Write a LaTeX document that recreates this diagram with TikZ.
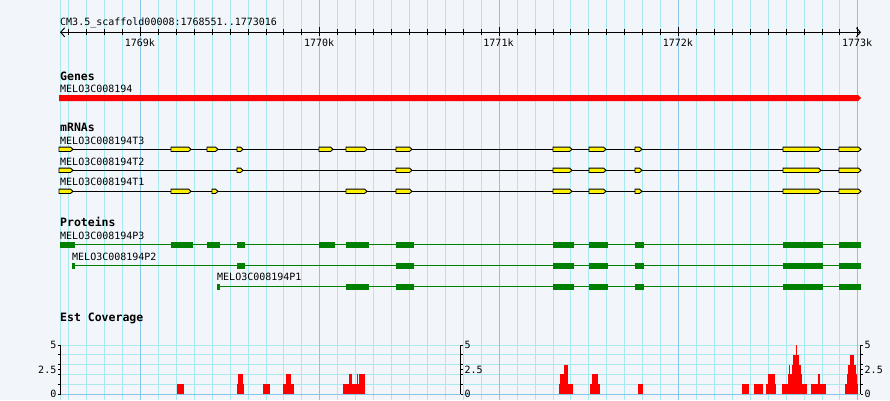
\documentclass[tikz,border=0pt]{standalone}
\usepackage{fontspec}
\setmonofont{DejaVu Sans Mono}
\usepackage{tikz}
\usetikzlibrary{arrows.meta}
\definecolor{panel}{RGB}{242,245,250}
\definecolor{gridminor}{RGB}{168,234,240}
\definecolor{gridmajor}{RGB}{135,198,232}
\definecolor{genered}{RGB}{255,0,0}
\definecolor{cdsgreen}{RGB}{0,128,0}
\tikzstyle{lbl}=[anchor=base west, inner sep=0, text=black,
                font=\ttfamily\fontsize{10}{12}\selectfont]
\tikzstyle{ttl}=[anchor=base west, inner sep=0, text=black,
                font=\ttfamily\bfseries\fontsize{11.5}{13}\selectfont]
\tikzstyle{gridv}=[draw=gridminor, line width=1pt]
\tikzstyle{gridmaj}=[draw=gridmajor, line width=1pt]
\tikzstyle{ruler}=[draw=black, line width=1pt,
                {Straight Barb[length=4pt,width=9pt]}-{Straight Barb[length=4pt,width=9pt]}]
\tikzstyle{intron}=[draw=black, line width=1pt]
\tikzstyle{exon}=[draw=black, fill=yellow, line width=0.9pt]
\tikzstyle{pline}=[draw=cdsgreen, line width=1pt]
\tikzstyle{cds}=[fill=cdsgreen]
\tikzstyle{axis}=[draw=black, line width=1pt]
\newcommand{\mexon}[3]{\draw[exon] (#1,{#3-2.2}) -- ({#2-2.5},{#3-2.2}) -- (#2,#3)
  -- ({#2-2.5},{#3+2.2}) -- (#1,{#3+2.2}) -- cycle;}
\newcommand{\cdsbox}[3]{\fill[cds] (#1,{#3-2.8}) rectangle (#2,{#3+3.2});}

\begin{document}
\begin{tikzpicture}[x=1pt,y=-1pt]
\fill[panel] (0,0) rectangle (890,400);
\useasboundingbox (0,0) rectangle (890,400);
% grid
\draw[gridv] (60,0) -- (60,400);
\foreach \i in {0,...,44}
  \draw[gridv] ({60+(49+100*\i)*0.17933},0) -- ++(0,400);
\foreach \v in {1,...,5}
  \draw[gridv] (60,{394-9.8*\v}) -- (860,{394-9.8*\v});
\foreach \i in {4,14,24,34,44}
  \draw[gridmaj] ({60+(49+100*\i)*0.17933},0) -- ++(0,400);
\draw[gridmaj] (60,394) -- (860,394);

% ruler
\node[lbl] (scaf) at (60,25) {CM3.5\_scaffold00008:1768551..1773016};
\coordinate (rs) at (60,32.3);
\coordinate (re) at (861,32.3);
\draw[ruler] (rs) -- (re);
\foreach \i in {0,...,44}
  \draw[axis] ({60+(49+100*\i)*0.17933},29) -- ++(0,6);
\foreach \i/\lab in {4/1769k,14/1770k,24/1771k,34/1772k,44/1773k}{
  \draw[axis] ({60+(49+100*\i)*0.17933},27.3) -- ++(0,8.5);
  \node[lbl, anchor=base] (tk\i) at ({59.3+(49+100*\i)*0.17933},46) {\lab};
}

% genes
\node[ttl] (genes) at (60,80) {Genes};
\node[lbl] (gene) at (60,92.5) {MELO3C008194};
\fill[genered] (59,95) -- (858,95) -- (861,98) -- (858,101) -- (59,101) -- cycle;

% mRNAs
\node[ttl] (mrnas) at (60,131.7) {mRNAs};
\node[lbl] (t3) at (60,144.3) {MELO3C008194T3};
\node[lbl] (t2) at (60,165) {MELO3C008194T2};
\node[lbl] (t1) at (60,185.7) {MELO3C008194T1};
\draw[intron] (59,149.3) -- (861,149.3);
\draw[intron] (59,170.3) -- (861,170.3);
\draw[intron] (59,191.3) -- (861,191.3);
\foreach \a/\b in {59/73,171/191,207/218,237/243,319/333,346/367,396/412,
                   553/572,589/606,635/642,783/821,839/861}
  {\mexon{\a}{\b}{149.3}}
\foreach \a/\b in {59/73,237/243,396/412,553/572,589/606,635/642,783/821,839/861}
  {\mexon{\a}{\b}{170.3}}
\foreach \a/\b in {59/73,171/191,212/218,346/367,396/412,
                   553/572,589/606,635/642,783/821,839/861}
  {\mexon{\a}{\b}{191.3}}

% proteins
\node[ttl] (prots) at (60,226.7) {Proteins};
\node[lbl] (p3) at (60,239.3) {MELO3C008194P3};
\node[lbl] (p2) at (72,260) {MELO3C008194P2};
\node[lbl] (p1) at (217,280.7) {MELO3C008194P1};
\draw[pline] (60,244.5) -- (861,244.5);
\draw[pline] (72,265.5) -- (861,265.5);
\draw[pline] (217,286.7) -- (861,286.7);
\foreach \a/\b in {60/75,171/193,207/220,237/245,319/335,346/369,396/414,
                   553/574,589/608,635/644,783/823,839/861}
  {\cdsbox{\a}{\b}{244.5}}
\foreach \a/\b in {72/75,237/245,396/414,553/574,589/608,635/644,783/823,839/861}
  {\cdsbox{\a}{\b}{265.5}}
\foreach \a/\b in {217/220,346/369,396/414,553/574,589/608,635/644,783/823,839/861}
  {\cdsbox{\a}{\b}{286.7}}

% est coverage
\node[ttl] (est) at (60,321.7) {Est Coverage};
\foreach \a/\b/\v in {177/184/1, 237/244/1, 238/243/2, 263/270/1, 283/294/1, 286/291/2,
    343/365/1, 349/352/2, 357/358/2, 359/365/2,
    559/573/1, 560/568/2, 564/568/3, 590/600/1, 592/598/2, 638/643/1,
    742/749/1, 754/763/1, 766/776/1, 768/775/2,
    782/807/1, 788/802/2, 789/790/3, 792/801/3, 793/799/4, 796/797/5,
    811/826/1, 818/820/2, 845/858/1, 847/857/2, 848/856/3, 850/854/4}
  {\fill[genered] (\a,394) rectangle (\b,{394-9.8*\v});}
\draw[axis] (60.5,345) -- (60.5,394);
\draw[axis] (460.5,345) -- (460.5,394);
\draw[axis] (860.5,345) -- (860.5,394);
\foreach \v in {0,1,2,2.5,3,4,5}{
  \draw[axis] (57.5,{394-9.8*\v}) -- (60.5,{394-9.8*\v});
  \draw[axis] (460.5,{394-9.8*\v}) -- (463,{394-9.8*\v});
  \draw[axis] (860.5,{394-9.8*\v}) -- (863,{394-9.8*\v});
}
\foreach \v/\lab in {0/0,2.5/2.5,5/5}{
  \node[lbl, anchor=east] (yl\lab) at (56.5,{394-9.8*\v}) {\lab};
  \node[lbl, anchor=west] (ym\lab) at (464.5,{394-9.8*\v}) {\lab};
  \node[lbl, anchor=west] (yr\lab) at (864.5,{394-9.8*\v}) {\lab};
}
\end{tikzpicture}
\end{document}
